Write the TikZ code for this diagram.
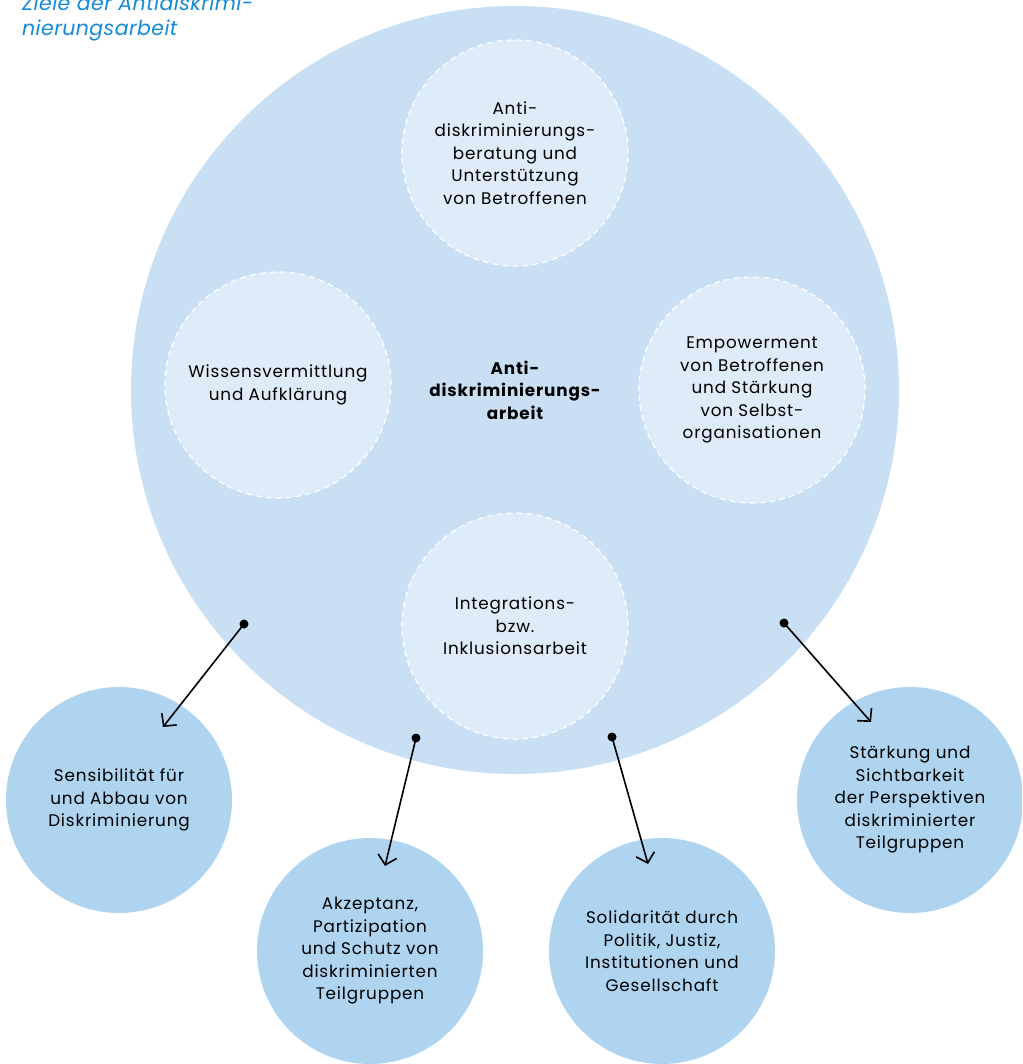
\documentclass[tikz,border=0pt]{standalone}
\usepackage{fontspec}
\setmainfont{Poppins}[LetterSpace=5]
\newfontfamily\titlefont{Poppins}[LetterSpace=2]
\usetikzlibrary{arrows.meta}
\definecolor{bigc}{RGB}{200,223,244}
\definecolor{innerc}{RGB}{222,236,249}
\definecolor{outerc}{RGB}{174,212,240}
\definecolor{titleblue}{RGB}{20,138,218}
\tikzset{
  body/.style={font=\fontsize{16.8}{22.5}\selectfont, align=center, text=black},
  bigcircle/.style={circle, fill=bigc, minimum size=768pt, inner sep=0pt},
  smallc/.style={body, circle, fill=innerc, draw=white, dashed, dash pattern=on 6pt off 4pt, line width=1.2pt, minimum size=226pt, inner sep=0pt},
  outc/.style={body, circle, fill=outerc, minimum size=226pt, inner sep=0pt},
  dotn/.style={circle, fill=black, minimum size=9pt, inner sep=0pt},
  arr/.style={line width=1.6pt, -{Straight Barb[length=9pt,width=19pt,line width=1.6pt]}},
  titletext/.style={font=\titlefont\fontsize{20.5}{25}\selectfont\itshape, text=titleblue, anchor=base west, inner sep=0pt}
}
\begin{document}
\begin{tikzpicture}[x=1pt,y=-1pt]
\useasboundingbox (0,0) rectangle (1022,1064);
\clip (0,0) rectangle (1022,1064);
\fill[white] (0,0) rectangle (1022,1064);
\node[bigcircle] (big) at (515,390) {};
\node[smallc] (s1) at (515,153) {Anti-\\diskriminierungs-\\beratung und\\Unterstützung\\von Betroffenen};
\node[smallc] (s2) at (278,385) {Wissensvermittlung\\und Aufklärung};
\node[smallc] (s3) at (752,390) {Empowerment\\von Betroffenen\\und Stärkung\\von Selbst-\\organisationen};
\node[smallc] (s4) at (515,626) {Integrations-\\bzw.\\Inklusionsarbeit};
\node[body, font=\fontsize{16.8}{22.5}\selectfont\bfseries] (center) at (515,390) {Anti-\\diskriminierungs-\\arbeit};
\node[outc] (o1) at (119,800) {Sensibilität für\\und Abbau von\\Diskriminierung};
\node[outc] (o2) at (370,951) {Akzeptanz,\\Partizipation\\und Schutz von\\diskriminierten\\Teilgruppen};
\node[outc] (o3) at (662,951) {Solidarität durch\\Politik, Justiz,\\Institutionen und\\Gesellschaft};
\node[outc] (o4) at (910,800) {Stärkung und\\Sichtbarkeit\\der Perspektiven\\diskriminierter\\Teilgruppen};
\node[dotn] (d1) at (244,624) {};
\node[dotn] (d2) at (416,738) {};
\node[dotn] (d3) at (612,737) {};
\node[dotn] (d4) at (784,623) {};
\coordinate (t1) at (163,727);
\coordinate (t2) at (385,866);
\coordinate (t3) at (648,864);
\coordinate (t4) at (871,722);
\draw[arr] (d1.center) -- (t1);
\draw[arr] (d2.center) -- (t2);
\draw[arr] (d3.center) -- (t3);
\draw[arr] (d4.center) -- (t4);
\node[titletext] (title1) at (22,11) {Ziele der Antidiskrimi-};
\node[titletext] (title2) at (22,36) {nierungsarbeit};
\end{tikzpicture}
\end{document}
